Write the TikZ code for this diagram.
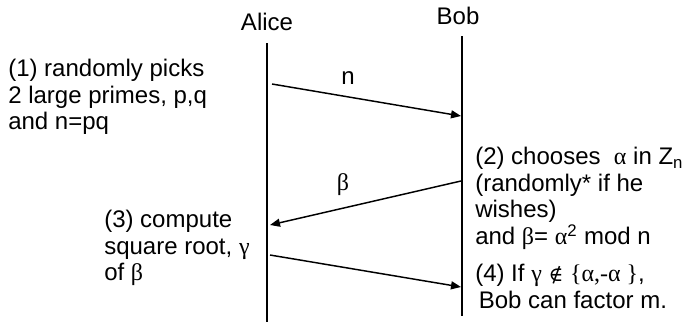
\documentclass[tikz,border=0pt]{standalone}
\usepackage{fontspec}
\setmainfont{Liberation Sans}
\newfontfamily\greekfont{Liberation Serif}
\newfontfamily\symfont{DejaVu Serif}
\usetikzlibrary{arrows.meta}
\newcommand{\gr}[1]{{\greekfont #1}}

\begin{document}
\begin{tikzpicture}[x=0.75pt, y=-0.75pt,
    party/.style={anchor=base, inner sep=0pt, font=\fontsize{18}{20}\selectfont},
    note/.style={anchor=north west, inner sep=0pt, align=left, font=\fontsize{18}{20}\selectfont},
    msglabel/.style={anchor=base, inner sep=0pt, font=\fontsize{18}{20}\selectfont},
    lifeline/.style={line width=2.2pt},
    msg/.style={line width=1.1pt, -{Triangle[length=7.5pt, width=6pt]}}]
    \useasboundingbox (0,0) rectangle (686,322);

    % Parties
    \node[party] (alice) at (267,30) {Alice};
    \node[party] (bob) at (458,24) {Bob};

    % Lifelines
    \coordinate (aliceTop) at (267,43);
    \coordinate (aliceEnd) at (267,322);
    \coordinate (bobTop) at (462,36);
    \coordinate (bobEnd) at (462,316);
    \draw[lifeline] (aliceTop) -- (aliceEnd);
    \draw[lifeline] (bobTop) -- (bobEnd);

    % Alice sends n
    \coordinate (a1) at (272,84);
    \coordinate (b1) at (461,116);
    \draw[msg] (a1) -- (b1);
    \node[msglabel] (n) at (348,84) {n};

    % Bob answers with beta
    \coordinate (b2) at (461,181);
    \coordinate (a2) at (270,225);
    \draw[msg] (b2) -- (a2);
    \node[msglabel] (beta) at (343,190) {\gr{β}};

    % Alice returns gamma
    \coordinate (a3) at (270,255);
    \coordinate (b3) at (461,287);
    \draw[msg] (a3) -- (b3);

    % Steps
    \node[note] (step1) at (8,59) {(1) randomly picks\\2 large primes, p,q\\and n=pq};
    \node[note] (step2) at (475,147) {(2) chooses\ \ \gr{α} in Z\textsubscript{n}\\(randomly* if he\\wishes)\\and \gr{β}= \gr{α}\smash{\textsuperscript{2}} mod n};
    \node[note] (step3) at (104,210) {(3) compute\\square root, \gr{γ}\\of \gr{β}};
    \node[note] (step4) at (475,264) {(4) If \gr{γ} {\symfont\fontsize{15}{15}\selectfont ∉} \gr{\{α,-α \}},\\\hspace{0.15em}Bob can factor m.};
\end{tikzpicture}
\end{document}
